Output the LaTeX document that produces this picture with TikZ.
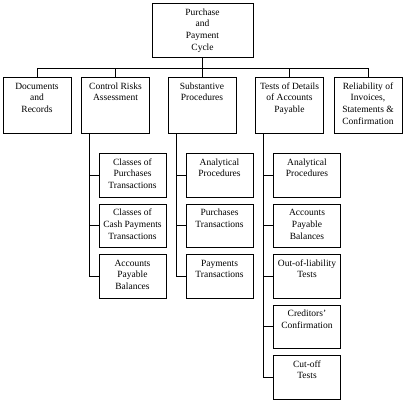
\documentclass[tikz,border=0pt]{standalone}
\usepackage{fontspec}
\setmainfont{Liberation Serif}
\usetikzlibrary{positioning}

% text set at the top of a box of fixed size
\newcommand{\cell}[3]{\parbox[t][#2][t]{#1}{\centering\strut #3}}
\newcommand{\headcell}[1]{\cell{101pt}{47.2pt}{#1}}
\newcommand{\maincell}[1]{\cell{68pt}{49.2pt}{#1}}
\newcommand{\subcell}[1]{\cell{67pt}{36.7pt}{#1}}

\begin{document}
\begin{tikzpicture}[
  x=1pt,y=-1pt,
  box/.style={draw,line width=0.8pt,inner xsep=0pt,inner ysep=3.4pt,anchor=north,font=\fontsize{9.5}{11.8}\selectfont},
  link/.style={line width=0.8pt},
  node distance=6.2pt
]
\useasboundingbox (0,0) rectangle (404,400);

\node[box] (cycle) at (202.5,3) {\headcell{Purchase\\and\\Payment\\Cycle}};

\node[box] (doc) at (37,77) {\maincell{Documents\\and\\Records}};
\node[box] (ctrl) at (115.5,77) {\maincell{Control Risks\\Assessment}};
\node[box] (subst) at (202,77) {\maincell{Substantive\\Procedures}};
\node[box] (tests) at (289.5,77) {\maincell{Tests of Details\\of Accounts\\Payable}};
\node[box] (rel) at (368,77) {\maincell{Reliability of\\Invoices,\\Statements \&\\Confirmation}};

% control risks
\node[box] (ctrl1) at (132.5,153) {\subcell{Classes of\\Purchases\\Transactions}};
\node[box,below=of ctrl1] (ctrl2) {\subcell{Classes of\\Cash Payments\\Transactions}};
\node[box,below=of ctrl2] (ctrl3) {\subcell{Accounts\\Payable\\Balances}};

% substantive procedures
\node[box] (subst1) at (219.5,153) {\subcell{Analytical\\Procedures}};
\node[box,below=of subst1] (subst2) {\subcell{Purchases\\Transactions}};
\node[box,below=of subst2] (subst3) {\subcell{Payments\\Transactions}};

% tests of details
\node[box] (tests1) at (307,153) {\subcell{Analytical\\Procedures}};
\node[box,below=of tests1] (tests2) {\subcell{Accounts\\Payable\\Balances}};
\node[box,below=of tests2] (tests3) {\subcell{Out-of-liability\\Tests}};
\node[box,below=of tests3] (tests4) {\subcell{Creditors'\\Confirmation}};
\node[box,below=of tests4] (tests5) {\subcell{Cut-off\\Tests}};

% top bus
\coordinate (busl) at (doc.north |- 0,68);
\coordinate (busr) at (rel.north |- 0,68);
\draw[link] (busl) -- (busr);
\draw[link] (cycle.south) -- (cycle.south |- busl);
\foreach \n in {doc,ctrl,subst,tests,rel}
  \draw[link] (\n.north) -- (\n.north |- busl);

% spines
\coordinate (ctrlx) at ([xshift=-9pt]ctrl1.west);
\coordinate (substx) at ([xshift=-9pt]subst1.west);
\coordinate (testsx) at ([xshift=-10pt]tests1.west);
\draw[link] (ctrl.south -| ctrlx) |- (ctrl3.west);
\draw[link] (subst.south -| substx) |- (subst3.west);
\draw[link] (tests.south -| testsx) |- (tests5.west);
\foreach \c in {ctrl1,ctrl2}
  \draw[link] (\c.west) -- (\c.west -| ctrlx);
\foreach \c in {subst1,subst2}
  \draw[link] (\c.west) -- (\c.west -| substx);
\foreach \c in {tests1,tests2,tests3,tests4}
  \draw[link] (\c.west) -- (\c.west -| testsx);
\end{tikzpicture}
\end{document}
